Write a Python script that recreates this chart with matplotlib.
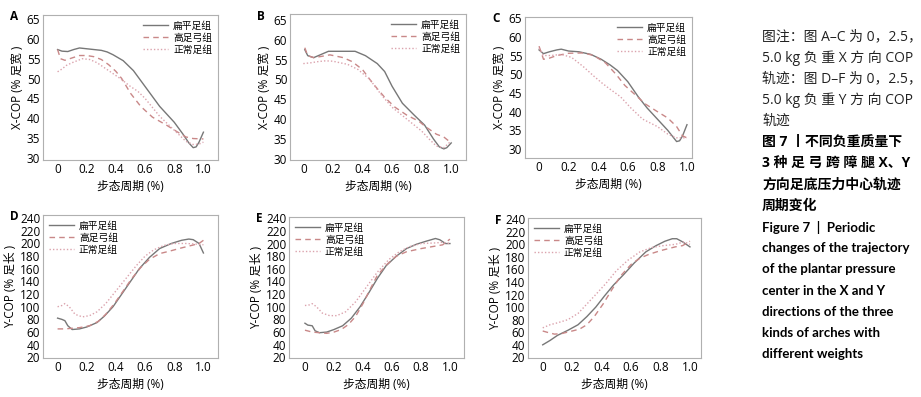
import matplotlib
matplotlib.use("Agg")
import matplotlib.pyplot as plt

plt.rcParams['font.family'] = ['Open Sans', 'Noto Sans CJK SC', 'DejaVu Sans']

W, H = 921, 397

groups = ['扁平足组', '高足弓组', '正常足组']
colors = ['#777777', '#c98888', '#dba3ad']
styles = ['-', (0, (4, 3)), (0, (1, 1.5))]

# ---- panel A: X-COP, 0 kg ----
a_flat_x = [0, 0.03, 0.07, 0.11, 0.15, 0.2, 0.25, 0.3, 0.34, 0.38, 0.45, 0.52, 0.6, 0.7, 0.8, 0.86, 0.9, 0.93, 0.95, 0.97, 1.0]
a_flat_y = [57.3, 56.9, 56.8, 57.3, 57.7, 57.5, 57.3, 57.1, 56.7, 56.0, 54.5, 52.0, 48.0, 43.0, 39.0, 36.0, 33.8, 32.6, 32.8, 34.0, 36.5]
a_high_x = [0, 0.02, 0.05, 0.1, 0.15, 0.2, 0.25, 0.3, 0.35, 0.4, 0.44, 0.5, 0.57, 0.65, 0.75, 0.82, 0.88, 0.93, 1.0]
a_high_y = [57.3, 55.0, 54.6, 55.2, 55.8, 55.8, 55.5, 54.8, 53.5, 51.8, 50.0, 46.3, 43.0, 40.3, 38.2, 36.6, 35.3, 34.9, 34.8]
a_norm_x = [0, 0.03, 0.06, 0.1, 0.17, 0.22, 0.27, 0.31, 0.35, 0.43, 0.5, 0.55, 0.6, 0.7, 0.8, 0.88, 0.93, 0.97, 1.0]
a_norm_y = [51.7, 52.4, 53.3, 54.0, 55.0, 54.8, 54.0, 53.0, 52.0, 50.0, 48.0, 46.8, 45.0, 40.5, 37.0, 34.2, 33.4, 33.5, 34.0]

# ---- panel B: X-COP, 2.5 kg ----
b_flat_x = [0.01, 0.03, 0.07, 0.12, 0.17, 0.25, 0.35, 0.42, 0.5, 0.55, 0.6, 0.67, 0.75, 0.82, 0.88, 0.92, 0.95, 0.97, 1.0]
b_flat_y = [57.5, 56.0, 55.5, 56.3, 57.1, 57.1, 57.1, 56.0, 54.0, 52.0, 48.3, 44.0, 41.0, 38.5, 35.0, 33.0, 32.5, 32.8, 34.0]
b_high_x = [0.01, 0.03, 0.07, 0.12, 0.18, 0.27, 0.33, 0.4, 0.47, 0.55, 0.62, 0.7, 0.78, 0.83, 0.9, 0.95, 1.0]
b_high_y = [58.0, 56.0, 55.5, 55.8, 56.2, 55.5, 54.5, 52.5, 49.0, 45.5, 43.0, 41.0, 39.5, 38.0, 36.2, 35.5, 34.0]
b_norm_x = [0, 0.05, 0.1, 0.15, 0.2, 0.3, 0.37, 0.45, 0.53, 0.6, 0.7, 0.8, 0.85, 0.9, 0.95, 1.0]
b_norm_y = [54.0, 54.2, 54.5, 54.7, 54.6, 53.8, 52.5, 50.0, 46.0, 43.0, 40.0, 37.0, 35.0, 33.2, 32.8, 34.5]

# ---- panel C: X-COP, 5.0 kg ----
c_flat_x = [0, 0.03, 0.07, 0.12, 0.15, 0.2, 0.27, 0.35, 0.42, 0.48, 0.53, 0.6, 0.67, 0.73, 0.8, 0.87, 0.91, 0.93, 0.95, 0.97, 1.0]
c_flat_y = [56.5, 55.5, 56.0, 56.5, 56.7, 56.2, 56.0, 55.3, 54.0, 52.5, 51.0, 48.0, 44.0, 41.0, 38.0, 35.0, 33.0, 32.0, 32.2, 33.5, 36.5]
c_high_x = [0, 0.03, 0.07, 0.12, 0.2, 0.3, 0.37, 0.45, 0.52, 0.58, 0.65, 0.72, 0.8, 0.87, 0.93, 0.97, 1.0]
c_high_y = [57.5, 54.0, 54.3, 55.0, 55.6, 55.7, 55.0, 53.0, 50.0, 47.0, 44.5, 42.0, 40.0, 38.3, 36.0, 33.5, 33.0]
c_norm_x = [0, 0.03, 0.08, 0.15, 0.22, 0.3, 0.37, 0.43, 0.48, 0.55, 0.62, 0.7, 0.8, 0.87, 0.93, 1.0]
c_norm_y = [57.0, 55.0, 55.0, 55.3, 54.5, 52.0, 49.5, 47.5, 46.0, 44.0, 41.0, 38.0, 36.0, 34.0, 33.0, 33.0]

# ---- panel D: Y-COP, 0 kg ----
d_flat_x = [0, 0.03, 0.05, 0.07, 0.1, 0.15, 0.2, 0.27, 0.32, 0.38, 0.44, 0.5, 0.56, 0.63, 0.7, 0.78, 0.85, 0.9, 0.93, 0.97, 1.0]
d_flat_y = [82, 80, 78, 70, 64, 65, 68, 75, 85, 100, 120, 140, 160, 178, 192, 200, 205, 207, 206, 200, 185]
d_high_x = [0, 0.05, 0.1, 0.15, 0.22, 0.28, 0.33, 0.39, 0.45, 0.51, 0.57, 0.63, 0.7, 0.77, 0.85, 0.92, 0.97, 1.0]
d_high_y = [65, 65, 66, 67, 70, 77, 88, 105, 125, 145, 162, 175, 184, 188, 193, 197, 200, 205]
d_norm_x = [0, 0.03, 0.05, 0.08, 0.12, 0.17, 0.22, 0.27, 0.33, 0.4, 0.47, 0.54, 0.6, 0.66, 0.73, 0.8, 0.88, 0.95, 1.0]
d_norm_y = [100, 102, 105, 100, 88, 84, 86, 92, 105, 125, 145, 165, 180, 190, 197, 200, 200, 199, 198]

# ---- panel E: Y-COP, 2.5 kg ----
e_flat_x = [0, 0.02, 0.05, 0.07, 0.1, 0.15, 0.2, 0.26, 0.32, 0.38, 0.44, 0.5, 0.56, 0.63, 0.7, 0.77, 0.84, 0.9, 0.93, 0.97, 1.0]
e_flat_y = [74, 71, 70, 62, 59, 60, 64, 70, 82, 100, 122, 145, 165, 180, 192, 199, 204, 208, 206, 200, 200]
e_high_x = [0, 0.05, 0.1, 0.15, 0.2, 0.25, 0.3, 0.35, 0.4, 0.45, 0.5, 0.57, 0.63, 0.7, 0.8, 0.9, 0.95, 1.0]
e_high_y = [63, 60, 59, 58, 60, 64, 72, 85, 105, 128, 150, 168, 180, 187, 192, 196, 198, 207]
e_norm_x = [0, 0.03, 0.05, 0.08, 0.12, 0.17, 0.22, 0.28, 0.35, 0.42, 0.5, 0.58, 0.65, 0.72, 0.8, 0.9, 0.95, 1.0]
e_norm_y = [102, 103, 105, 100, 90, 86, 86, 92, 108, 130, 155, 175, 187, 195, 200, 201, 202, 200]

# ---- panel F: Y-COP, 5.0 kg ----
f_flat_x = [0, 0.05, 0.1, 0.17, 0.24, 0.3, 0.36, 0.42, 0.48, 0.55, 0.62, 0.7, 0.77, 0.83, 0.88, 0.91, 0.95, 1.0]
f_flat_y = [40, 47, 55, 63, 72, 85, 100, 118, 135, 152, 170, 188, 198, 205, 209, 209, 204, 196]
f_high_x = [0, 0.03, 0.08, 0.13, 0.2, 0.25, 0.3, 0.35, 0.41, 0.47, 0.53, 0.6, 0.66, 0.72, 0.8, 0.9, 0.95, 1.0]
f_high_y = [62, 60, 57, 58, 62, 65, 72, 85, 105, 128, 150, 168, 178, 184, 190, 196, 198, 205]
f_norm_x = [0, 0.05, 0.1, 0.17, 0.24, 0.3, 0.36, 0.43, 0.5, 0.58, 0.66, 0.74, 0.82, 0.9, 0.96, 1.0]
f_norm_y = [67, 72, 75, 80, 90, 105, 120, 138, 158, 175, 188, 195, 198, 200, 204, 200]

x_ticks = [0, 0.2, 0.4, 0.6, 0.8, 1.0]
x_ticklabels = ['0', '0.2', '0.4', '0.6', '0.8', '1.0']
x_cop_ticks = [30, 35, 40, 45, 50, 55, 60, 65]
y_cop_ticks = [20, 40, 60, 80, 100, 120, 140, 160, 180, 200, 220, 240]

caption_note = ['图注：图 A–C 为 0，2.5，', '5.0 kg 负 重 X 方 向 COP',
                '轨迹：图 D–F 为 0，2.5，', '5.0 kg 负 重 Y 方 向 COP', '轨迹']
caption_cn = ['图 7 丨不同负重质量下', '3 种 足 弓 跨 障 腿 X、Y', '方向足底压力中心轨迹', '周期变化']
caption_en = ['Figure 7  |  Periodic', 'changes of the trajectory', 'of the plantar pressure',
              'center in the X and Y', 'directions of the three', 'kinds of arches with',
              'different weights']

panels = [
    ('A', (43, 15, 218, 160), (-0.1, 1.1), (29.5, 66), x_cop_ticks, 'X-COP (% 足宽 )', 'upper right',
     [(a_flat_x, a_flat_y), (a_high_x, a_high_y), (a_norm_x, a_norm_y)]),
    ('B', (290, 14, 466, 160), (-0.09, 1.1), (29.7, 66.5), x_cop_ticks, 'X-COP (% 足宽 )', 'upper right',
     [(b_flat_x, b_flat_y), (b_high_x, b_high_y), (b_norm_x, b_norm_y)]),
    ('C', (525, 17, 692, 158), (-0.095, 1.034), (27.6, 65.3), x_cop_ticks, 'X-COP (% 足宽 )', 'upper right',
     [(c_flat_x, c_flat_y), (c_high_x, c_high_y), (c_norm_x, c_norm_y)]),
    ('D', (43, 215, 218, 358), (-0.1, 1.1), (19, 245), y_cop_ticks, 'Y-COP (% 足长 )', 'upper left',
     [(d_flat_x, d_flat_y), (d_high_x, d_high_y), (d_norm_x, d_norm_y)]),
    ('E', (289, 217, 464, 358), (-0.11, 1.097), (19, 242), y_cop_ticks, 'Y-COP (% 足长 )', 'upper left',
     [(e_flat_x, e_flat_y), (e_high_x, e_high_y), (e_norm_x, e_norm_y)]),
    ('F', (528, 218, 701, 358), (-0.1, 1.075), (19, 242), y_cop_ticks, 'Y-COP (% 足长 )', 'upper left',
     [(f_flat_x, f_flat_y), (f_high_x, f_high_y), (f_norm_x, f_norm_y)]),
]

fig = plt.figure(figsize=(W / 100, H / 100), dpi=100)

for letter, (l, t, r, b), xlim, ylim, yticks, ylabel, loc, series in panels:
    ax = fig.add_axes([l / W, 1 - b / H, (r - l) / W, (b - t) / H])
    for (xs, ys), name, c, ls in zip(series, groups, colors, styles):
        ax.plot(xs, ys, color=c, linestyle=ls, linewidth=1.0, label=name)
    ax.set_xlim(*xlim)
    ax.set_ylim(*ylim)
    ax.set_xticks(x_ticks)
    ax.set_xticklabels(x_ticklabels)
    ax.set_yticks(yticks)
    ax.tick_params(length=0, labelsize=8.5, pad=2)
    for s in ax.spines.values():
        s.set_color('#b0b0b0')
        s.set_linewidth(0.8)
    ax.set_xlabel('步态周期 (%)', fontsize=8.5, labelpad=3)
    ax.set_ylabel(ylabel, fontsize=8.5, labelpad=2)
    ax.legend(loc=loc, frameon=False, fontsize=7, handlelength=2.6,
              borderaxespad=0.2, labelspacing=0.1, handletextpad=0.5)
    fig.text((l - 33) / W, 1 - (t + 2) / H, letter, fontsize=8.5, fontweight='bold',
             ha='left', va='center')

# caption at the right
x0 = 762 / W
y = 37
for line in caption_note:
    fig.text(x0, 1 - y / H, line, fontsize=10, color='#222222', va='center')
    y += 21
for line in caption_cn:
    fig.text(x0, 1 - y / H, line, fontsize=10, fontweight='bold', va='center')
    y += 21.3
for line in caption_en:
    fig.text(x0, 1 - y / H, line, fontsize=9.5, fontweight='bold', va='center',
             family=['Lato', 'DejaVu Sans'])
    y += 21.1

fig.savefig('out.png', dpi=100)
